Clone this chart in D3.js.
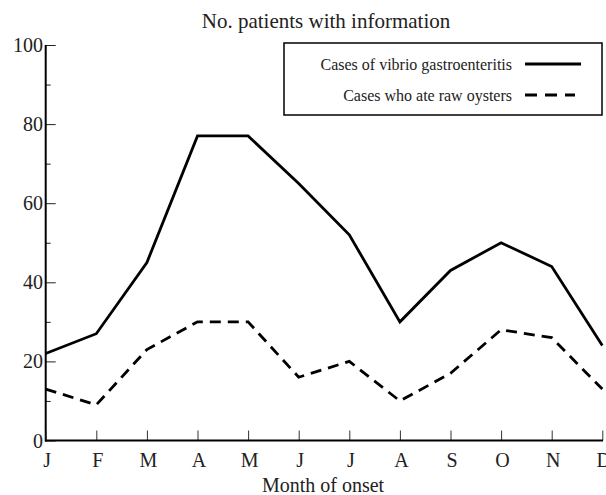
<!DOCTYPE html>
<meta charset="utf-8">
<style>
body { margin: 0; background: #fff; }
text { font-family: "Liberation Serif", "Times New Roman", serif; fill: #222; }
.line { fill: none; stroke: #000; stroke-width: 2.8px; stroke-linejoin: miter; }
</style>
<body>
<script src="https://d3js.org/d3.v7.min.js"></script>
<script>

var months = ["J","F","M","A","M","J","J","A","S","O","N","D"];
var vibrio = [22, 27, 45, 77, 77, 65, 52, 30, 43, 50, 44, 24];
var oysters = [13, 9, 23, 30, 30, 16, 20, 10, 17, 28, 26, 13];
var yTicks = [0, 20, 40, 60, 80, 100];
var yMinor = [10, 30, 50, 70, 90];
var legendLabels = ["Cases of vibrio gastroenteritis", "Cases who ate raw oysters"];

var width = 606, height = 495;

var svg = d3.select("body").append("svg")
    .attr("width", width)
    .attr("height", height);

// months repeat, so position by index
var x = d3.scalePoint()
    .domain(d3.range(months.length))
    .range([45.7, 602.3]);

var y = d3.scaleLinear()
    .domain([0, 100])
    .range([440.5, 45]);

// y axis: ticks point inward, labels on the left
svg.append("g")
    .attr("transform", "translate(45.7,0)")
    .call(d3.axisRight(y).tickValues(yTicks).tickSize(10).tickFormat(""))
    .call(function(g) { g.select(".domain").remove(); })
    .selectAll("line").attr("stroke", "#222");

svg.append("g")
    .attr("transform", "translate(45.7,0)")
    .call(d3.axisRight(y).tickValues(yMinor).tickSize(5).tickFormat(""))
    .call(function(g) { g.select(".domain").remove(); })
    .selectAll("line").attr("stroke", "#222");

svg.selectAll(".ylab")
    .data(yTicks)
  .enter().append("text")
    .attr("class", "ylab")
    .attr("x", 43)
    .attr("y", function(d) { return y(d) + 7; })
    .attr("text-anchor", "end")
    .style("font-size", "20px")
    .text(function(d) { return d; });

svg.append("line")
    .attr("x1", 45.7).attr("x2", 45.7)
    .attr("y1", y(100)).attr("y2", y(0) + 1)
    .attr("stroke", "#000").attr("stroke-width", 2);

// x axis: ticks point up
svg.append("g")
    .attr("transform", "translate(0," + y(0) + ")")
    .call(d3.axisTop(x).tickSize(10).tickFormat(""))
    .call(function(g) { g.select(".domain").remove(); })
    .selectAll("line").attr("stroke", "#333");

svg.append("line")
    .attr("x1", 45).attr("x2", 603)
    .attr("y1", y(0)).attr("y2", y(0))
    .attr("stroke", "#000").attr("stroke-width", 2);

svg.selectAll(".xlab")
    .data(months)
  .enter().append("text")
    .attr("class", "xlab")
    .attr("x", function(d, i) { return x(i) + 1.5; })
    .attr("y", 467)
    .attr("text-anchor", "middle")
    .style("font-size", "20px")
    .text(function(d) { return d; });

svg.append("text")
    .attr("x", 323)
    .attr("y", 492)
    .attr("text-anchor", "middle")
    .style("font-size", "20px")
    .text("Month of onset");

svg.append("text")
    .attr("x", 326)
    .attr("y", 28)
    .attr("text-anchor", "middle")
    .style("font-size", "21px")
    .text("No. patients with information");

var line = d3.line()
    .x(function(d, i) { return x(i); })
    .y(function(d) { return y(d); });

svg.append("path")
    .datum(vibrio)
    .attr("class", "line")
    .attr("d", line);

svg.append("path")
    .datum(oysters)
    .attr("class", "line")
    .style("stroke-dasharray", "11,7")
    .attr("d", line);

// legend
var legend = svg.append("g");

legend.append("rect")
    .attr("x", 284).attr("y", 43)
    .attr("width", 318).attr("height", 72)
    .attr("fill", "#fff")
    .attr("stroke", "#000")
    .attr("stroke-width", 1.5);

legendLabels.forEach(function(label, i) {
  var ly = 64 + i * 31;
  legend.append("text")
      .attr("x", 512)
      .attr("y", ly + 5.5)
      .attr("text-anchor", "end")
      .style("font-size", "16px")
      .text(label);
  legend.append("line")
      .attr("x1", 525).attr("x2", i === 1 ? 575 : 581)
      .attr("y1", ly).attr("y2", ly)
      .attr("stroke", "#000")
      .attr("stroke-width", 2.8)
      .style("stroke-dasharray", i === 1 ? "12,8" : null);
});

</script>
